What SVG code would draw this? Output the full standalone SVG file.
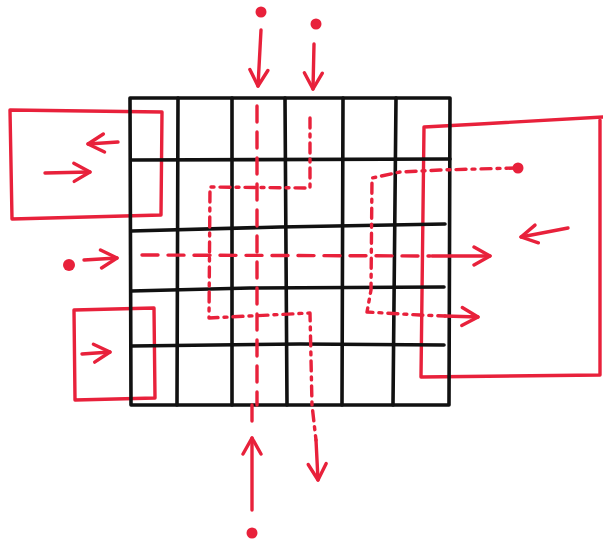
<svg xmlns="http://www.w3.org/2000/svg" width="603" height="542" viewBox="0 0 603 542">
<style>
.g{stroke:#111;stroke-width:3.6;fill:none;stroke-linecap:round;stroke-linejoin:round}
.r{stroke:#e8213b;stroke-width:3.4;fill:none;stroke-linecap:round;stroke-linejoin:round}
.d{stroke-dasharray:16 10}
.dd{stroke-dasharray:10 6 3 6}
.dot{fill:#e8213b}
</style>
<defs>
<marker id="ah" viewBox="0 0 24 24" refX="21" refY="12" markerWidth="24" markerHeight="24" markerUnits="userSpaceOnUse" orient="auto">
<path d="M5 3 L21 12 L5 21" fill="none" stroke="#e8213b" stroke-width="3.4" stroke-linecap="round" stroke-linejoin="round"/>
</marker>
</defs>
<rect width="603" height="542" fill="#fff"/>
<g id="boxes">
<path class="r" d="M10 110 L162 112 L161 215 L12 219 Z"/>
<path class="r" d="M74 310 L154 308 L155 398 L75 400 Z"/>
<path class="r" d="M603 117 L480 124 L424 127 L421 377 L600 375 L600 120"/>
</g>
<g id="grid">
<path class="g" d="M130 98 L450 98 L449 405 L131 405 Z"/>
<path class="g" d="M178 98 L177 405 M232 98 L232 405 M285 98 L287 405 M343 98 L342 405 M396 98 L393 405"/>
<path class="g" d="M131 160 L450 159 M131 231 L280 227 L445 224 M131 291 L250 288 L444 287 M131 346 L300 344 L444 345"/>
</g>
<g id="connectors">
<line class="r" x1="118" y1="142" x2="88" y2="144" marker-end="url(#ah)"/>
<line class="r" x1="45" y1="173" x2="90" y2="172" marker-end="url(#ah)"/>
<line class="r" x1="84" y1="260" x2="117" y2="258" marker-end="url(#ah)"/>
<line class="r" x1="82" y1="354" x2="110" y2="352" marker-end="url(#ah)"/>
<line class="r" x1="568" y1="228" x2="521" y2="237" marker-end="url(#ah)"/>
<line class="r" x1="261" y1="30" x2="258" y2="86" marker-end="url(#ah)"/>
<line class="r" x1="314" y1="44" x2="313" y2="89" marker-end="url(#ah)"/>
<line class="r d" x1="257" y1="106" x2="257" y2="405"/>
<path class="r d" d="M252 405 L252 430"/>
<line class="r" x1="252" y1="510" x2="252" y2="438" marker-end="url(#ah)"/>
<path class="r dd" d="M310 118 L310 188 L210 187 L209 318 L310 313 L312 405 L316 440"/>
<line class="r" x1="316" y1="440" x2="318" y2="480" marker-end="url(#ah)"/>
<path class="r d" d="M142 255 L430 256"/>
<line class="r" x1="432" y1="256" x2="490" y2="256" marker-end="url(#ah)"/>
<path class="r dd" d="M516 168 L440 170 L400 172 L372 178 L371 290 L367 312 L420 315 L445 316"/>
<line class="r" x1="445" y1="316" x2="478" y2="317" marker-end="url(#ah)"/>
</g>
<g id="dots">
<circle class="dot" cx="261" cy="12" r="5.5"/>
<circle class="dot" cx="316" cy="24" r="5.5"/>
<circle class="dot" cx="69" cy="265" r="6"/>
<circle class="dot" cx="518" cy="168" r="5.5"/>
<circle class="dot" cx="252" cy="533" r="5.5"/>
</g>
</svg>
